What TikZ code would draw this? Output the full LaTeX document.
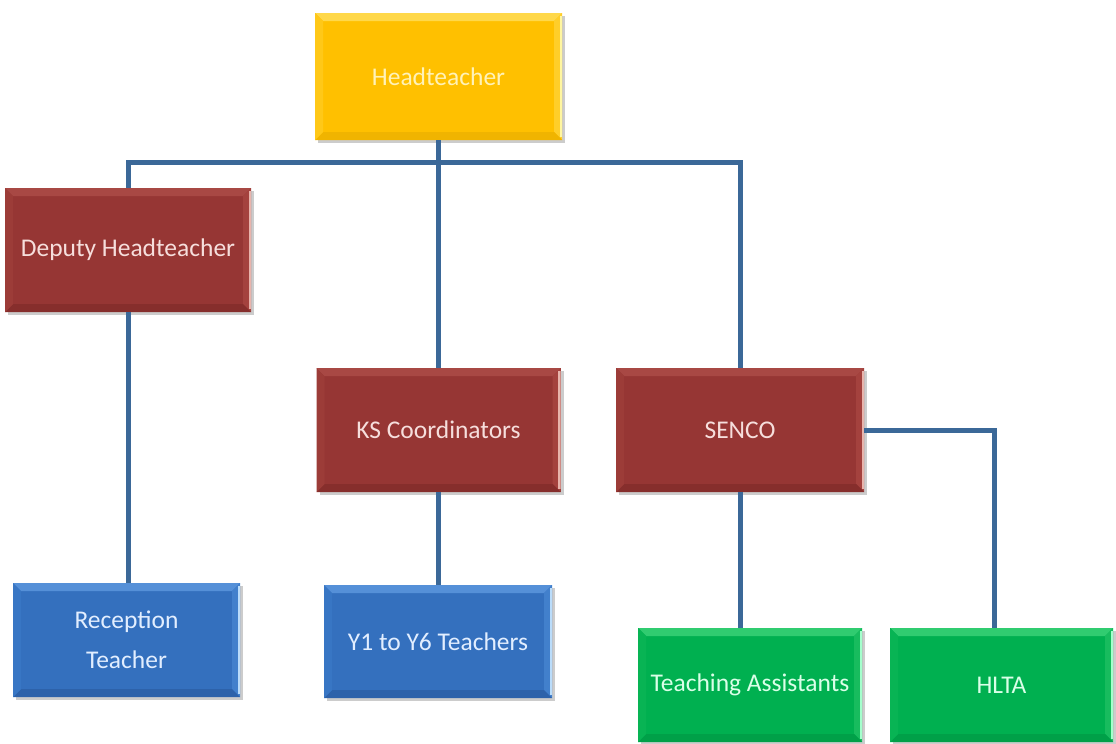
\documentclass[tikz,border=0pt]{standalone}
\usepackage{fontspec}
\setmainfont{Carlito}
\usetikzlibrary{shadows}
\definecolor{lineblue}{HTML}{3B6898}
\definecolor{yBase}{HTML}{FFC000}\definecolor{yTop}{HTML}{FFD84A}\definecolor{yRight}{HTML}{FFCE2A}\definecolor{yBot}{HTML}{F0B400}\definecolor{yLeft}{HTML}{FFC818}\definecolor{yText}{HTML}{FFF2B8}\definecolor{yHi}{HTML}{FFF6A0}
\definecolor{rBase}{HTML}{963634}\definecolor{rTop}{HTML}{A84844}\definecolor{rRight}{HTML}{A4423E}\definecolor{rBot}{HTML}{862E2C}\definecolor{rLeft}{HTML}{9C3C38}\definecolor{rText}{HTML}{F6DEDC}\definecolor{rHi}{HTML}{E8B4AC}
\definecolor{bBase}{HTML}{3470BE}\definecolor{bTop}{HTML}{5590D8}\definecolor{bRight}{HTML}{4280CC}\definecolor{bBot}{HTML}{2D62AA}\definecolor{bLeft}{HTML}{3876C4}\definecolor{bText}{HTML}{E2EEFF}\definecolor{bHi}{HTML}{BADCFA}
\definecolor{gBase}{HTML}{00B050}\definecolor{gTop}{HTML}{30CC70}\definecolor{gRight}{HTML}{18BC5E}\definecolor{gBot}{HTML}{00A048}\definecolor{gLeft}{HTML}{08B454}\definecolor{gText}{HTML}{DAFFE8}\definecolor{gHi}{HTML}{A4FFCC}
\tikzset{
  bevelbox/.style n args={7}{
    rectangle, inner sep=0pt, fill=#1, text=#6, align=center,
    font=\fontsize{25.5}{40}\selectfont,
    drop shadow={shadow xshift=3pt, shadow yshift=-3pt, fill=black, opacity=0.2},
    path picture={
      \fill[#2] (path picture bounding box.north west) -- (path picture bounding box.north east)
        -- ([xshift=-8pt,yshift=-8pt]path picture bounding box.north east)
        -- ([xshift=8pt,yshift=-8pt]path picture bounding box.north west) -- cycle;
      \fill[#3] (path picture bounding box.north east) -- (path picture bounding box.south east)
        -- ([xshift=-8pt,yshift=8pt]path picture bounding box.south east)
        -- ([xshift=-8pt,yshift=-8pt]path picture bounding box.north east) -- cycle;
      \fill[#4] (path picture bounding box.south west) -- (path picture bounding box.south east)
        -- ([xshift=-8pt,yshift=8pt]path picture bounding box.south east)
        -- ([xshift=8pt,yshift=8pt]path picture bounding box.south west) -- cycle;
      \fill[#5] (path picture bounding box.north west) -- (path picture bounding box.south west)
        -- ([xshift=8pt,yshift=8pt]path picture bounding box.south west)
        -- ([xshift=8pt,yshift=-8pt]path picture bounding box.north west) -- cycle;
      \fill[#7] ([yshift=-3pt]path picture bounding box.north east) rectangle ([xshift=-2.5pt,yshift=3pt]path picture bounding box.south east);
    }
  },
  yellowbox/.style={bevelbox={yBase}{yTop}{yRight}{yBot}{yLeft}{yText}{yHi}},
  redbox/.style={bevelbox={rBase}{rTop}{rRight}{rBot}{rLeft}{rText}{rHi}},
  bluebox/.style={bevelbox={bBase}{bTop}{bRight}{bBot}{bLeft}{bText}{bHi}},
  greenbox/.style={bevelbox={gBase}{gTop}{gRight}{gBot}{gLeft}{gText}{gHi}},
  conn/.style={draw=lineblue, line width=5pt}
}
\begin{document}
\begin{tikzpicture}[x=1pt,y=-1pt]
\useasboundingbox[fill=white] (0,0) rectangle (1116,744);

\node[yellowbox, minimum width=247pt, minimum height=127pt] (head) at (438.5,76.5) {Headteacher};
\node[redbox, minimum width=246pt, minimum height=124pt] (dep) at (128,250) {Deputy Headteacher};
\node[redbox, minimum width=244pt, minimum height=124pt] (ks) at (438.5,430) {KS Coordinators};
\node[redbox, minimum width=248pt, minimum height=124pt] (senco) at (740,430) {SENCO};
\node[bluebox, minimum width=227pt, minimum height=114pt] (rec) at (126.5,640) {Reception\\Teacher};
\node[bluebox, minimum width=228pt, minimum height=113pt] (y16) at (438,641.5) {Y1 to Y6 Teachers};
\node[greenbox, minimum width=224pt, minimum height=114pt] (ta) at (750,685) {Teaching Assistants};
\node[greenbox, minimum width=223pt, minimum height=114pt] (hlta) at (1001.5,685) {HLTA};

\coordinate (bus) at ([yshift=-22pt]head.south);
\draw[conn] (head.south) -- (bus);
\draw[conn] (bus) -| (dep.north);
\draw[conn] (bus) -| (senco.north);
\draw[conn] (bus) -- (ks.north);
\draw[conn] (dep.south) -- (dep.south |- rec.north);
\draw[conn] (ks.south) -- (ks.south |- y16.north);
\draw[conn] (senco.south) -- (senco.south |- ta.north);
\draw[conn] (senco.east) -| ([xshift=-7pt]hlta.north);
\end{tikzpicture}
\end{document}
